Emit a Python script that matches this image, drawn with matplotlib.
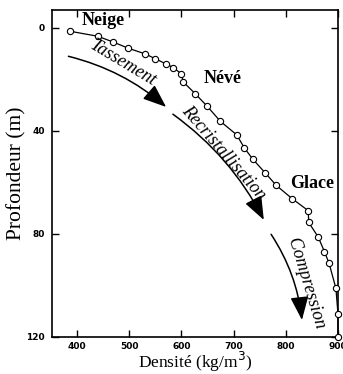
import matplotlib
matplotlib.use("Agg")
import matplotlib.pyplot as plt

density = [388, 440, 469, 499, 530, 550, 570, 585, 600, 604, 627, 650, 675, 706,
           721, 737, 761, 782, 812, 843, 844, 862, 874, 883, 896, 900, 900]
depth = [1.3, 3.2, 5.4, 7.9, 10.0, 11.9, 13.9, 15.4, 17.8, 21.0, 25.6, 30.5, 36.3, 41.5,
         46.7, 51.0, 56.4, 61.2, 66.3, 71.0, 75.6, 81.2, 86.9, 91.5, 101.2, 111.2, 120.0]
xticks = [400, 500, 600, 700, 800, 900]
yticks = [0, 40, 80, 120]

zone_labels = ["Neige", "Névé", "Glace"]
zone_pos = [(451, -2.8), (680, 19.7), (851, 60.3)]
proc_labels = ["Tassement", "Recristallisation", "Compression"]
proc_pos = [(489, 13.6), (681, 48.6), (838, 99.2)]
proc_rot = [-31, -49, -73]
arrows = [((384, 11.0), (571, 30.7)),
          ((584, 33.5), (758, 74.6)),
          ((772, 80.2), (831, 113.5))]

fig = plt.figure(figsize=(3.43, 3.74), dpi=100)
ax = fig.add_axes([0.1507, 0.0997, 0.8347, 0.8736])
ax.plot(density, depth, '-', color='black', lw=0.9, marker='o', ms=4.5,
        mfc='white', mec='black', mew=0.8, clip_on=False, zorder=3)
ax.set_xlim(352, 900)
ax.set_ylim(120, -7)
ax.set_xticks(xticks)
ax.set_yticks(yticks)
ax.tick_params(direction='in', length=5, width=1, top=True, right=True,
               labelsize=6.5, pad=5)
ax.tick_params(axis='x', pad=3.5)
for lab in ax.get_xticklabels() + ax.get_yticklabels():
    lab.set_fontweight('bold')
for s in ax.spines.values():
    s.set_linewidth(1.2)

serif = 'Liberation Serif'
ax.set_ylabel("Profondeur (m)", fontfamily=serif, fontsize=15.5, labelpad=0)
ax.set_xlabel("Densité (kg/m$^3$)", fontfamily=serif, fontsize=12.5, labelpad=-0.5)

for t, (x, y) in zip(zone_labels, zone_pos):
    ax.text(x, y, t, fontfamily=serif, fontweight='bold', fontsize=13,
            ha='center', va='center')
for t, (x, y), r in zip(proc_labels, proc_pos, proc_rot):
    ax.text(x, y, t, fontfamily=serif, fontstyle='italic', fontsize=13,
            ha='center', va='center', rotation=r, rotation_mode='anchor')
for (s, e) in arrows:
    ax.annotate("", xy=e, xytext=s,
                arrowprops=dict(arrowstyle="-|>,head_length=0.9,head_width=0.35",
                                mutation_scale=16, color='black', lw=1.1,
                                connectionstyle="arc3,rad=-0.12",
                                shrinkA=0, shrinkB=0))

fig.savefig("out.png", dpi=100)
